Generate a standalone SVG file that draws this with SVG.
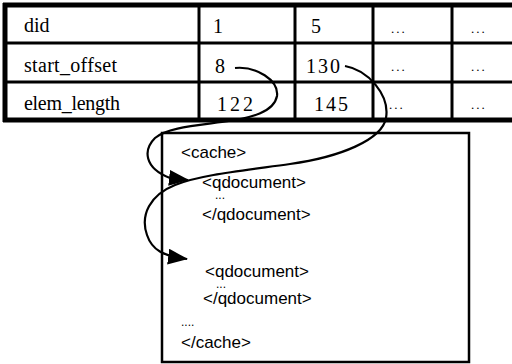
<svg xmlns="http://www.w3.org/2000/svg" width="512" height="364" viewBox="0 0 512 364">
<defs>
<style>
.t{font-family:"Liberation Serif","Times New Roman",serif;font-size:20px;fill:#000}
.d{font-family:"Liberation Serif",serif;font-size:13px;fill:#000;letter-spacing:2px}
.s{font-family:"Liberation Sans",Arial,sans-serif;font-size:17px;fill:#000}
.e{font-family:"Liberation Sans",Arial,sans-serif;font-size:12px;fill:#000}
.thin{stroke:#000;stroke-width:3;fill:none}
.thick{stroke:#000;stroke-width:5;fill:none}
.c{stroke:#000;stroke-width:2.2;fill:none}
</style>
<marker id="a" viewBox="0 0 20 16" refX="19" refY="8" markerWidth="20" markerHeight="16" markerUnits="userSpaceOnUse" orient="auto">
<path d="M0,0 L20,8 L0,16 z" fill="#000"/>
</marker>
</defs>
<g id="table">
<line class="thick" x1="3" y1="5" x2="512" y2="5"/>
<line class="thick" x1="5" y1="3" x2="5" y2="122"/>
<line class="thick" x1="3" y1="120" x2="512" y2="120"/>
<line class="thin" x1="5" y1="43" x2="512" y2="43"/>
<line class="thin" x1="5" y1="82" x2="512" y2="82"/>
<line class="thin" x1="199" y1="5" x2="199" y2="120"/>
<line class="thin" x1="295" y1="5" x2="295" y2="120"/>
<line class="thin" x1="373" y1="5" x2="373" y2="120"/>
<line class="thin" x1="452" y1="5" x2="452" y2="120"/>
<text class="t" x="24" y="32">did</text>
<text class="t" x="24" y="72" textLength="93">start_offset</text>
<text class="t" x="24" y="110" textLength="96">elem_length</text>
<text class="t" x="213" y="33">1</text>
<text class="t" x="311" y="33">5</text>
<text class="t" x="215" y="73">8</text>
<text class="t" x="306" y="73" textLength="34">130</text>
<text class="t" x="217" y="111" textLength="36">122</text>
<text class="t" x="314" y="111" textLength="34">145</text>
<text class="d" x="391" y="33">...</text>
<text class="d" x="471" y="33">...</text>
<text class="d" x="391" y="71">...</text>
<text class="d" x="471" y="71">...</text>
<text class="d" x="389" y="109">...</text>
<text class="d" x="471" y="109">...</text>
</g>
<g id="cache">
<rect x="162" y="133" width="307" height="229" fill="none" stroke="#000" stroke-width="2.5"/>
<text class="s" x="181" y="158">&lt;cache&gt;</text>
<text class="s" x="202" y="188">&lt;qdocument&gt;</text>
<text class="e" x="215" y="199">...</text>
<text class="s" x="202" y="220">&lt;/qdocument&gt;</text>
<text class="s" x="205" y="277">&lt;qdocument&gt;</text>
<text class="e" x="216" y="288">...</text>
<text class="s" x="203" y="304">&lt;/qdocument&gt;</text>
<text class="e" x="181" y="326">....</text>
<text class="s" x="181" y="348">&lt;/cache&gt;</text>
</g>
<g id="connectors">
<path class="c" marker-end="url(#a)" d="M235,68 C256,66 279,80 277,96 C274,112 252,118 222,122 C192,126 167,128 155,138 C143,150 144,168 170,178 L188,180"/>
<path class="c" marker-end="url(#a)" d="M345,66 C368,70 390,95 386,118 C382,140 340,157 290,164 C240,171 200,175 175,185 C150,195 140,215 147,235 C152,250 163,256 187,259"/>
</g>
</svg>
